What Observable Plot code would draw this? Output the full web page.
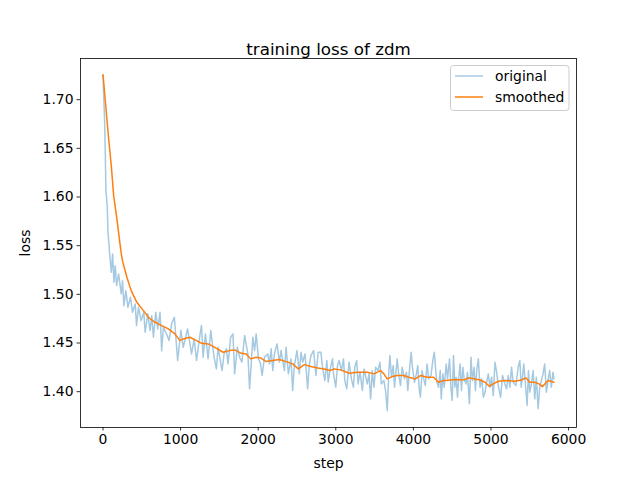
<!DOCTYPE html>
<html>
<head>
<meta charset="utf-8">
<script src="https://cdn.jsdelivr.net/npm/d3@7"></script>
<script src="https://cdn.jsdelivr.net/npm/@observablehq/plot@0.6"></script>
<style>
  html, body { margin: 0; padding: 0; background: #fff; }
  #chart { width: 640px; height: 480px; }
</style>
</head>
<body>
<div id="chart"></div>
<script>
const titleText = "training loss of zdm";
const xLabel = "step";
const yLabel = "loss";
const seriesNames = ["original", "smoothed"];
const xTicks = [0, 1000, 2000, 3000, 4000, 5000, 6000];
const yTicks = [1.40, 1.45, 1.50, 1.55, 1.60, 1.65, 1.70];

const stepsOriginal = [
  0, 20, 30, 38, 45, 55, 64, 74, 86, 107, 124, 141, 158, 175, 201, 235, 252, 269, 295, 321,
  355, 380, 415, 432, 457, 491, 526, 543, 577, 607, 628, 650, 680, 705, 735, 756, 778, 821, 851, 885,
  919, 962, 1004, 1034, 1090, 1141, 1175, 1205, 1248,
  1269, 1290, 1320, 1354, 1389, 1431, 1461, 1483, 1504, 1534, 1560, 1590, 1611, 1645, 1675, 1696,
  1731, 1761, 1790, 1825, 1867, 1889, 1910, 1931, 1953, 1974, 2004, 2030, 2051, 2081, 2124, 2145,
  2167, 2188, 2209, 2243, 2273, 2295, 2338, 2359, 2389, 2423, 2444, 2466, 2500, 2530, 2551, 2573,
  2603, 2637, 2658, 2679, 2714, 2744, 2773,
  2808, 2829, 2859, 2885, 2902, 2928, 2958, 2970, 3000, 3022, 3043, 3073, 3099, 3116, 3141, 3171,
  3201, 3227, 3244, 3270, 3287, 3312, 3342, 3364, 3406, 3428, 3449, 3470, 3492, 3513, 3543, 3569,
  3586, 3620, 3641, 3663, 3684, 3697, 3718, 3740, 3757, 3791, 3812, 3834, 3855, 3885, 3911, 3928,
  3953, 3971, 3988, 4013, 4039, 4056, 4073, 4090, 4112, 4133, 4154, 4176, 4197, 4227, 4253, 4270,
  4291, 4304, 4325,
  4346, 4359, 4380, 4397, 4423, 4440, 4466, 4483, 4500, 4517, 4534, 4551, 4568, 4585, 4602, 4620,
  4637, 4654, 4679, 4696, 4722, 4743, 4760, 4782, 4799, 4816, 4837, 4859, 4880, 4902, 4923, 4944,
  4966, 4987, 5008, 5030, 5051, 5073, 5094, 5124, 5149, 5179, 5201, 5222, 5244, 5265, 5286, 5320,
  5350, 5372, 5389, 5406, 5423, 5440, 5466, 5483, 5500, 5521, 5543, 5564, 5585, 5607, 5628, 5649,
  5671, 5692, 5714, 5735, 5756, 5778, 5799, 5812
];
const lossOriginal = [
  1.725, 1.680, 1.643, 1.605, 1.600, 1.590, 1.564, 1.555, 1.5415, 1.5227, 1.5415, 1.5124, 1.5295, 1.509, 1.521, 1.5005, 1.514, 1.4884, 1.5038, 1.4867,
  1.497, 1.4815, 1.490, 1.4679, 1.4867, 1.473, 1.4815, 1.461, 1.480, 1.4628, 1.478, 1.456, 1.4815, 1.4645, 1.4815, 1.442, 1.466, 1.459, 1.4525, 1.470,
  1.4764, 1.432, 1.463, 1.4456, 1.4645, 1.4388, 1.4542, 1.432, 1.4576,
  1.468, 1.4354, 1.4593, 1.4337, 1.4628, 1.4354, 1.4234, 1.4457, 1.4354, 1.4217, 1.4388, 1.444, 1.4286, 1.4559, 1.4593, 1.4183,
  1.4457, 1.4354, 1.4303, 1.4576, 1.4388, 1.4029, 1.4286, 1.4559, 1.4422, 1.4593, 1.4337, 1.4286, 1.4166, 1.4354, 1.4388, 1.4286,
  1.444, 1.4217, 1.4388, 1.4491, 1.4303, 1.4422, 1.4217, 1.4457, 1.4183, 1.4337, 1.4012, 1.4269, 1.4422, 1.4183, 1.4405, 1.4303,
  1.4388, 1.4029, 1.4269, 1.437, 1.4422, 1.4166, 1.4405,
  1.4405, 1.4251, 1.4114, 1.432, 1.4097, 1.4234, 1.4337, 1.4183, 1.4046, 1.4268, 1.432, 1.4217, 1.4337, 1.4114, 1.4029, 1.4303,
  1.4131, 1.4046, 1.4251, 1.432, 1.408, 1.42, 1.4012, 1.4234, 1.408, 1.4183, 1.3926, 1.4217, 1.4046, 1.4251, 1.4217, 1.4303,
  1.408, 1.4114, 1.4012, 1.3807, 1.4217, 1.4371, 1.4149, 1.4268, 1.4046, 1.4337, 1.4166, 1.4063, 1.4251, 1.4131, 1.42, 1.4012,
  1.4251, 1.4405, 1.4251, 1.4097, 1.4183, 1.4268, 1.4046, 1.3943, 1.4217, 1.4131, 1.4063, 1.4285, 1.4131, 1.4166, 1.4337, 1.4405,
  1.4183, 1.4097, 1.4046,
  1.4217, 1.3926, 1.4183, 1.4046, 1.4285, 1.4131, 1.4337, 1.4046, 1.3909, 1.4371, 1.4046, 1.4149, 1.3943, 1.4149, 1.4285, 1.4012,
  1.4251, 1.4131, 1.408, 1.42, 1.3875, 1.4354, 1.4114, 1.4251, 1.4012, 1.4217, 1.4337, 1.4046, 1.4131, 1.3943, 1.3995, 1.4097,
  1.4183, 1.4046, 1.4149, 1.396, 1.4303, 1.42, 1.4063, 1.3943, 1.4166, 1.408, 1.4029, 1.4166, 1.4046, 1.4251, 1.4097, 1.4063,
  1.4251, 1.432, 1.4046, 1.4149, 1.4285, 1.4114, 1.3858, 1.4217, 1.3995, 1.408, 1.4217, 1.3926, 1.4149, 1.3824, 1.4046, 1.4114,
  1.4183, 1.4285, 1.3995, 1.4114, 1.4217, 1.4046, 1.42, 1.4131
];

const stepsSmoothed = [
  0, 73, 107, 137, 179, 214, 235, 252, 308, 363, 436, 521, 585, 671, 756, 842, 927, 991, 1034, 1120,
  1205, 1269, 1355, 1440, 1547, 1632, 1697, 1782, 1846, 1902, 1974, 2030, 2103, 2188, 2273, 2359, 2444, 2517, 2594, 2679,
  2765, 2850, 2927, 2979, 3064, 3171, 3278, 3406, 3491, 3577, 3620, 3662, 3727, 3791, 3876, 3940, 4026, 4090, 4176, 4261,
  4324, 4389, 4432, 4538, 4645, 4709, 4795, 4859, 4923, 4978, 5030, 5094, 5201, 5308, 5394, 5449, 5500, 5564, 5619, 5662,
  5735, 5812
];
const lossSmoothed = [
  1.7257, 1.6596, 1.632, 1.6014, 1.5775, 1.555, 1.542, 1.534, 1.5175, 1.5038, 1.4918, 1.4833, 1.4764, 1.4713, 1.4679, 1.4645, 1.4594, 1.4525, 1.4542, 1.4559,
  1.4525, 1.4497, 1.4491, 1.4456, 1.4405, 1.4422, 1.4429, 1.4394, 1.4388, 1.4337, 1.4353, 1.4347, 1.4309, 1.432, 1.433, 1.4309, 1.4286, 1.4234, 1.4278, 1.4258,
  1.4244, 1.4234, 1.4217, 1.4234, 1.4224, 1.4189, 1.42, 1.42, 1.4183, 1.4217, 1.4183, 1.4131, 1.4155, 1.4166, 1.4166, 1.4148, 1.4131, 1.4166, 1.4148, 1.4148,
  1.4097, 1.4114, 1.4114, 1.4124, 1.412, 1.4142, 1.4131, 1.412, 1.4097, 1.4056, 1.408, 1.4107, 1.4114, 1.4107, 1.412, 1.4142, 1.4097, 1.4097, 1.408, 1.4052,
  1.4114, 1.4097
];

const original = stepsOriginal.map((s, i) => ({step: s, loss: lossOriginal[i]}));
const smoothed = stepsSmoothed.map((s, i) => ({step: s, loss: lossSmoothed[i]}));

const colors = ["#1f77b4", "#ff7f0e"];
const font = "DejaVu Sans, sans-serif";

const chart = Plot.plot({
  width: 640,
  height: 480,
  marginLeft: 80,
  marginRight: 64,
  marginTop: 58,
  marginBottom: 53,
  style: {fontFamily: font, fontSize: "13.9px", background: "#fff", color: "#000"},
  x: {domain: [-290, 6102]},
  y: {domain: [1.3632, 1.7423]},
  marks: [
    Plot.line(original, {x: "step", y: "loss", stroke: colors[0], strokeOpacity: 0.4, strokeWidth: 1.5}),
    Plot.line(smoothed, {x: "step", y: "loss", stroke: colors[1], strokeWidth: 1.5}),
    Plot.frame({stroke: "#000", strokeWidth: 0.8}),
    Plot.axisX({ticks: xTicks, tickSize: 3.5, tickPadding: 3.5, strokeWidth: 0.8, tickFormat: d3.format("d"),
      label: xLabel, labelAnchor: "center", labelArrow: "none", labelOffset: 40, fontSize: 13.9}),
    Plot.axisY({ticks: yTicks, tickSize: 3.5, tickPadding: 3.5, strokeWidth: 0.8, tickFormat: d3.format(".2f"),
      label: yLabel, labelAnchor: "center", labelArrow: "none", labelOffset: 60, fontSize: 13.9}),
    Plot.text([titleText], {frameAnchor: "top", dy: -15, fontSize: 16.7, text: d => d, fill: "#000"})
  ]
});

document.getElementById("chart").appendChild(chart);

// legend (upper right, matplotlib style)
const svg = d3.select(chart);
const lg = svg.append("g").attr("font-family", font).attr("font-size", "13.9px").attr("text-anchor", "start");
lg.append("rect").attr("x", 450.5).attr("y", 65.5).attr("width", 118.5).attr("height", 45)
  .attr("rx", 3).attr("fill", "#fff").attr("fill-opacity", 0.8).attr("stroke", "#cccccc").attr("stroke-width", 1);
seriesNames.forEach((name, i) => {
  const cy = 76 + i * 21;
  lg.append("line").attr("x1", 455).attr("x2", 483).attr("y1", cy).attr("y2", cy)
    .attr("stroke", colors[i]).attr("stroke-width", 1.5).attr("stroke-opacity", i === 0 ? 0.4 : 1);
  lg.append("text").attr("x", 495).attr("y", cy).attr("dy", "0.35em").attr("text-anchor", "start")
    .attr("fill", "#000").text(name);
});
</script>
</body>
</html>
